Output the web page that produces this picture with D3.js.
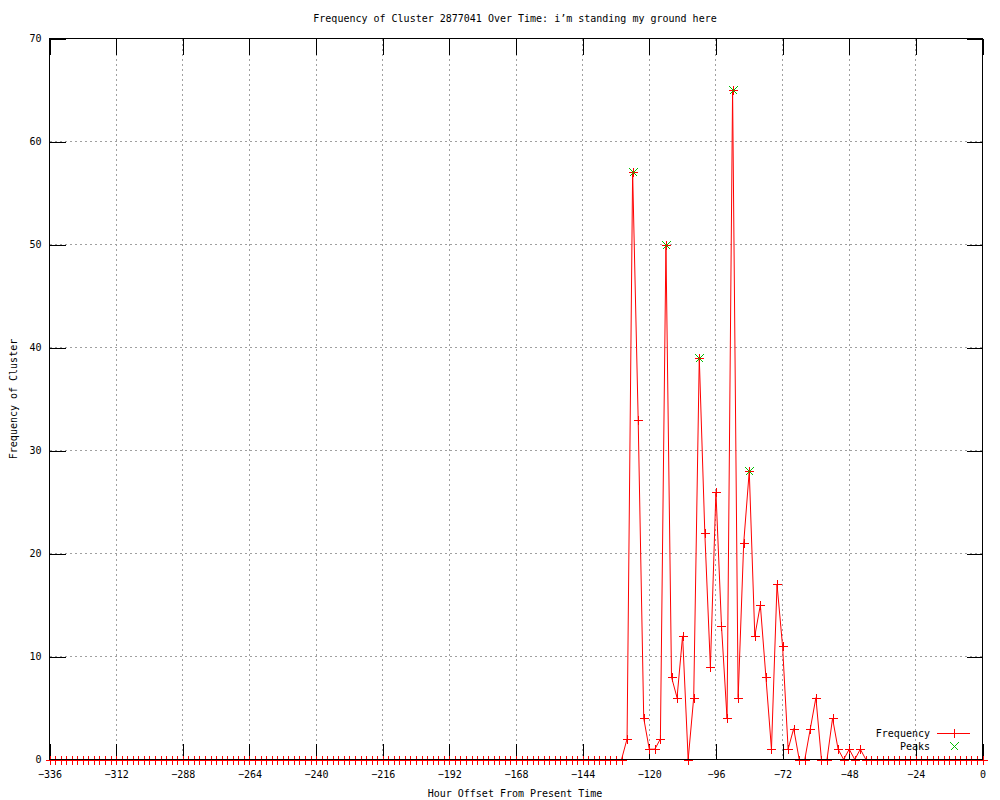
<!DOCTYPE html>
<html>
<head>
<meta charset="utf-8">
<script src="https://cdn.jsdelivr.net/npm/d3@7"></script>
<style>
  body { margin: 0; background: #fff; }
  svg text { font-family: "DejaVu Sans Mono", monospace; font-size: 10px; fill: #000; }
</style>
</head>
<body>
<svg id="chart" width="1000" height="800"></svg>
<script>
// sampled every 2 hours, -336 .. 0
const hours = d3.range(-336, 1, 2)
// one row per day (12 samples), last value is hour 0
const frequency = [
  0, 0, 0, 0, 0, 0, 0, 0, 0, 0, 0, 0,      // -336 .. -314
  0, 0, 0, 0, 0, 0, 0, 0, 0, 0, 0, 0,      // -312 .. -290
  0, 0, 0, 0, 0, 0, 0, 0, 0, 0, 0, 0,      // -288 .. -266
  0, 0, 0, 0, 0, 0, 0, 0, 0, 0, 0, 0,      // -264 .. -242
  0, 0, 0, 0, 0, 0, 0, 0, 0, 0, 0, 0,      // -240 .. -218
  0, 0, 0, 0, 0, 0, 0, 0, 0, 0, 0, 0,      // -216 .. -194
  0, 0, 0, 0, 0, 0, 0, 0, 0, 0, 0, 0,      // -192 .. -170
  0, 0, 0, 0, 0, 0, 0, 0, 0, 0, 0, 0,      // -168 .. -146
  0, 0, 0, 0, 0, 0, 0, 0, 2, 57, 33, 4,    // -144 .. -122
  1, 1, 2, 50, 8, 6, 12, 0, 6, 39, 22, 9,  // -120 .. -98
  26, 13, 4, 65, 6, 21, 28, 12, 15, 8, 1, 17, // -96 .. -74
  11, 1, 3, 0, 0, 3, 6, 0, 0, 4, 1, 0,     // -72 .. -50
  1, 0, 1, 0, 0, 0, 0, 0, 0, 0, 0, 0,      // -48 .. -26
  0, 0, 0, 0, 0, 0, 0, 0, 0, 0, 0, 0,      // -24 .. -2
  0                                        // 0
]
const peakHours = [-126, -114, -102, -90, -84]
const peakValues = [57, 50, 39, 65, 28]

const xTicks = [-336, -312, -288, -264, -240, -216, -192, -168, -144, -120, -96, -72, -48, -24, 0]
const yTicks = [0, 10, 20, 30, 40, 50, 60, 70]

const titleText = "Frequency of Cluster 2877041 Over Time: i\u2019m standing my ground here"
const xLabel = "Hour Offset From Present Time"
const yLabel = "Frequency of Cluster"

const svg = d3.select("#chart")
const plotLeft = 49.5, plotRight = 982.5, plotTop = 38.5, plotBottom = 759.5
const tickLen = 16

const x = d3.scaleLinear().domain([-336, 0]).range([plotLeft, plotRight])
const y = d3.scaleLinear().domain([0, 70]).range([plotBottom, plotTop])

svg.append("rect").attr("width", 1000).attr("height", 800).attr("fill", "#fff")

// grid
const grid = svg.append("g").attr("stroke", "#a0a0a0").attr("stroke-dasharray", "2,3").attr("shape-rendering", "crispEdges")
grid.selectAll(".vg").data(xTicks.slice(1, -1)).enter().append("line")
    .attr("x1", d => x(d)).attr("x2", d => x(d)).attr("y1", plotTop).attr("y2", plotBottom)
grid.selectAll(".hg").data(yTicks.slice(1, -1)).enter().append("line")
    .attr("y1", d => y(d)).attr("y2", d => y(d)).attr("x1", plotLeft).attr("x2", plotRight)

// axes (ticks inward, mirrored)
const xAxis = svg.append("g").attr("transform", `translate(0,${plotBottom})`)
    .call(d3.axisBottom(x).tickValues(xTicks).tickSize(-tickLen).tickPadding(11))
const xAxisTop = svg.append("g").attr("transform", `translate(0,${plotTop})`)
    .call(d3.axisTop(x).tickValues(xTicks).tickSize(-tickLen).tickFormat(""))
const yAxis = svg.append("g").attr("transform", `translate(${plotLeft},0)`)
    .call(d3.axisLeft(y).tickValues(yTicks).tickSize(-tickLen).tickPadding(8))
const yAxisRight = svg.append("g").attr("transform", `translate(${plotRight},0)`)
    .call(d3.axisRight(y).tickValues(yTicks).tickSize(-tickLen).tickFormat(""))

svg.selectAll(".domain").remove()
svg.selectAll(".tick line").attr("stroke", "#000").attr("shape-rendering", "crispEdges")
svg.selectAll(".tick text").attr("fill", "#000")
d3.selectAll([xAxis.node(), xAxisTop.node(), yAxis.node(), yAxisRight.node()])
    .attr("font-family", null).attr("font-size", null)

// data line
const data = hours.map((h, i) => ({ h: h, v: frequency[i] }))
svg.append("path")
    .datum(data)
    .attr("fill", "none")
    .attr("stroke", "#ff0000")
    .attr("stroke-width", 1)
    .attr("d", d3.line().x(d => x(d.h)).y(d => y(d.v)))

const plusPath = "M-4.5,0H4.5M0,-4.5V4.5"
const crossPath = "M-4,-4L4,4M-4,4L4,-4"

svg.append("g").selectAll("path").data(data).enter().append("path")
    .attr("d", plusPath)
    .attr("transform", d => `translate(${Math.round(x(d.h)) + 0.5},${Math.round(y(d.v)) + 0.5})`)
    .attr("stroke", "#ff0000").attr("fill", "none").attr("shape-rendering", "crispEdges")

// peaks
svg.append("g").selectAll("path").data(peakHours).enter().append("path")
    .attr("d", crossPath)
    .attr("transform", (d, i) => `translate(${Math.round(x(d)) + 0.5},${Math.round(y(peakValues[i])) + 0.5})`)
    .attr("stroke", "#00c000").attr("fill", "none").attr("shape-rendering", "crispEdges")

// border on top
svg.append("rect")
    .attr("x", plotLeft).attr("y", plotTop)
    .attr("width", plotRight - plotLeft).attr("height", plotBottom - plotTop)
    .attr("fill", "none").attr("stroke", "#000").attr("shape-rendering", "crispEdges")

// titles
svg.append("text").attr("x", 515).attr("y", 22).attr("text-anchor", "middle").text(titleText)
svg.append("text").attr("x", 515).attr("y", 797).attr("text-anchor", "middle").text(xLabel)
svg.append("text").attr("transform", "translate(17,399) rotate(-90)").attr("text-anchor", "middle").text(yLabel)

// legend
const legend = svg.append("g")
legend.append("text").attr("x", 930).attr("y", 737).attr("text-anchor", "end").text("Frequency")
legend.append("line").attr("x1", 937).attr("x2", 970).attr("y1", 733.5).attr("y2", 733.5)
    .attr("stroke", "#ff0000").attr("shape-rendering", "crispEdges")
legend.append("path").attr("d", plusPath).attr("transform", "translate(954.5,733.5)")
    .attr("stroke", "#ff0000").attr("fill", "none").attr("shape-rendering", "crispEdges")
legend.append("text").attr("x", 930).attr("y", 750).attr("text-anchor", "end").text("Peaks")
legend.append("path").attr("d", crossPath).attr("transform", "translate(954.5,746.5)")
    .attr("stroke", "#00c000").attr("fill", "none").attr("shape-rendering", "crispEdges")
</script>
</body>
</html>
